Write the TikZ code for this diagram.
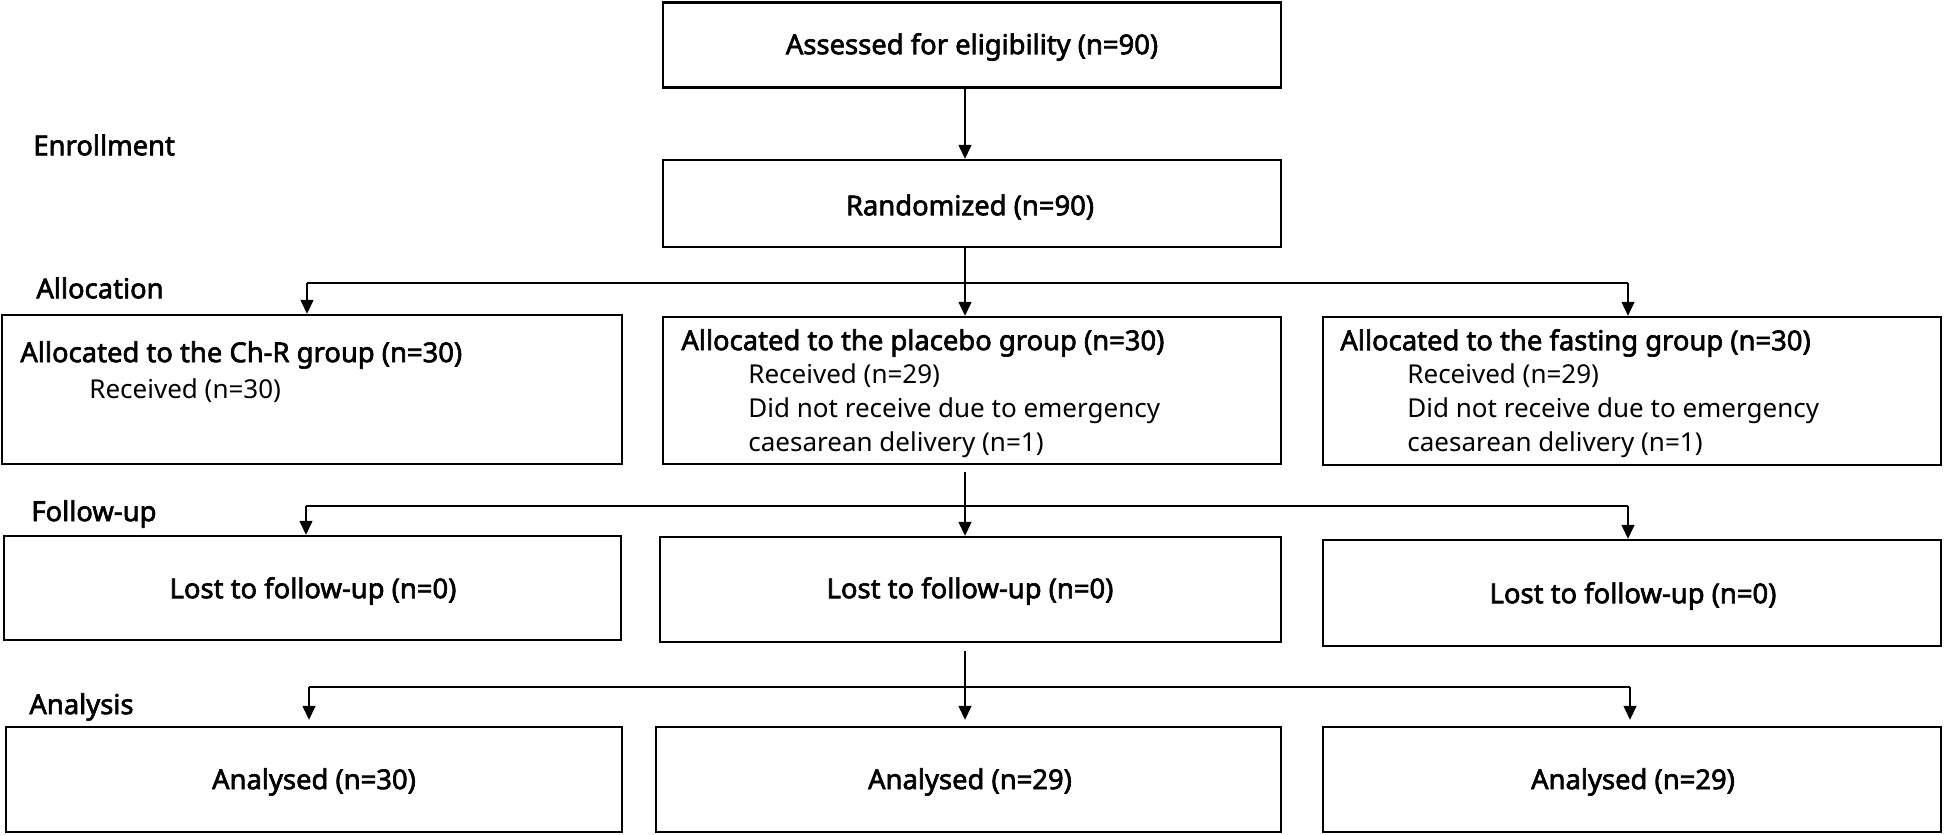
\documentclass[tikz,border=0pt]{standalone}
\usepackage{fontspec}
\setmainfont{Noto Sans}[AutoFakeBold=2.3]
\usetikzlibrary{arrows.meta}
\begin{document}
\begin{tikzpicture}[x=0.5pt,y=-0.5pt,
  box/.style={draw=black, line width=1.2pt, rectangle, inner sep=0pt},
  txt/.style={inner sep=0pt, font=\fontsize{13}{17}\selectfont},
  btxt/.style={inner sep=0pt, font=\fontsize{13.7}{17}\selectfont\bfseries},
  conn/.style={draw=black, line width=0.7pt},
  arr/.style={conn, -{Triangle[length=7pt,width=6.5pt]}}]
\useasboundingbox (0,0) rectangle (1944,835);
% boxes
\node[box, minimum width=309pt, minimum height=42.5pt] (a1) at (972,45) {};
\node[box, minimum width=309pt, minimum height=43.5pt] (a2) at (972,203.5) {};
\node[box, minimum width=310pt, minimum height=74.5pt] (l3) at (312,389.5) {};
\node[box, minimum width=309pt, minimum height=73.5pt] (m3) at (972,390.5) {};
\node[box, minimum width=309pt, minimum height=74pt] (r3) at (1632,391) {};
\node[box, minimum width=308.5pt, minimum height=52pt] (l4) at (312.5,588) {};
\node[box, minimum width=310.5pt, minimum height=52.5pt] (m4) at (970.5,589.5) {};
\node[box, minimum width=309pt, minimum height=53pt] (r4) at (1632,593) {};
\node[box, minimum width=308pt, minimum height=52.5pt] (l5) at (314,779.5) {};
\node[box, minimum width=312.5pt, minimum height=52.5pt] (m5) at (968.5,779.5) {};
\node[box, minimum width=309pt, minimum height=52.5pt] (r5) at (1632,779.5) {};
% stage labels
\node[btxt, anchor=west] (lenr) at (33,145) {Enrollment};
\node[btxt, anchor=west] (lall) at (36,288) {Allocation};
\node[btxt, anchor=west] (lfol) at (31,514) {Follow-up};
\node[btxt, anchor=west] (lana) at (29,707) {Analysis};
% box texts
\node[btxt] (ta1) at (972,47) {Assessed for eligibility (n=90)};
\node[btxt] (ta2) at (970,207) {Randomized (n=90)};
\node[btxt, anchor=west] (tl3) at (20,355) {Allocated to the Ch-R group (n=30)};
\node[txt, anchor=west] (sl3) at (89,391) {Received (n=30)};
\node[btxt, anchor=west] (tm3) at (681,343) {Allocated to the placebo group (n=30)};
\node[txt, anchor=west, align=left] (sm3) at (748,411) {Received (n=29)\\Did not receive due to emergency\\caesarean delivery (n=1)};
\node[btxt, anchor=west] (tr3) at (1340,343) {Allocated to the fasting group (n=30)};
\node[txt, anchor=west, align=left] (sr3) at (1407,411) {Received (n=29)\\Did not receive due to emergency\\caesarean delivery (n=1)};
\node[btxt] (tl4) at (313,591) {Lost to follow-up (n=0)};
\node[btxt] (tm4) at (970,591) {Lost to follow-up (n=0)};
\node[btxt] (tr4) at (1633,596) {Lost to follow-up (n=0)};
\node[btxt] (tl5) at (314,782) {Analysed (n=30)};
\node[btxt] (tm5) at (970,782) {Analysed (n=29)};
\node[btxt] (tr5) at (1633,782) {Analysed (n=29)};
% junction coordinates
\coordinate (cm) at (965,0);
\coordinate (j1L) at (307,283);
\coordinate (j1R) at (1628,283);
\coordinate (j2L) at (306,506);
\coordinate (j2R) at (1628,506);
\coordinate (j3L) at (309,687);
\coordinate (j3R) at (1630,687);
% connectors
\draw[arr] (a1.south -| cm) -- (a2.north -| cm);
\draw[arr] (a2.south -| cm) -- (m3.north -| cm);
\draw[conn] (j1L) -- (j1R);
\draw[arr] (j1L) -- (l3.north -| j1L);
\draw[arr] (j1R) -- (r3.north -| j1R);
\draw[arr, shorten <=3.5pt] (m3.south -| cm) -- (m4.north -| cm);
\draw[conn] (j2L) -- (j2R);
\draw[arr] (j2L) -- (l4.north -| j2L);
\draw[arr] (j2R) -- (r4.north -| j2R);
\draw[arr, shorten <=4pt, shorten >=3pt] (m4.south -| cm) -- (m5.north -| cm);
\draw[conn] (j3L) -- (j3R);
\draw[arr, shorten >=3pt] (j3L) -- (l5.north -| j3L);
\draw[arr, shorten >=3pt] (j3R) -- (r5.north -| j3R);
\end{tikzpicture}
\end{document}
